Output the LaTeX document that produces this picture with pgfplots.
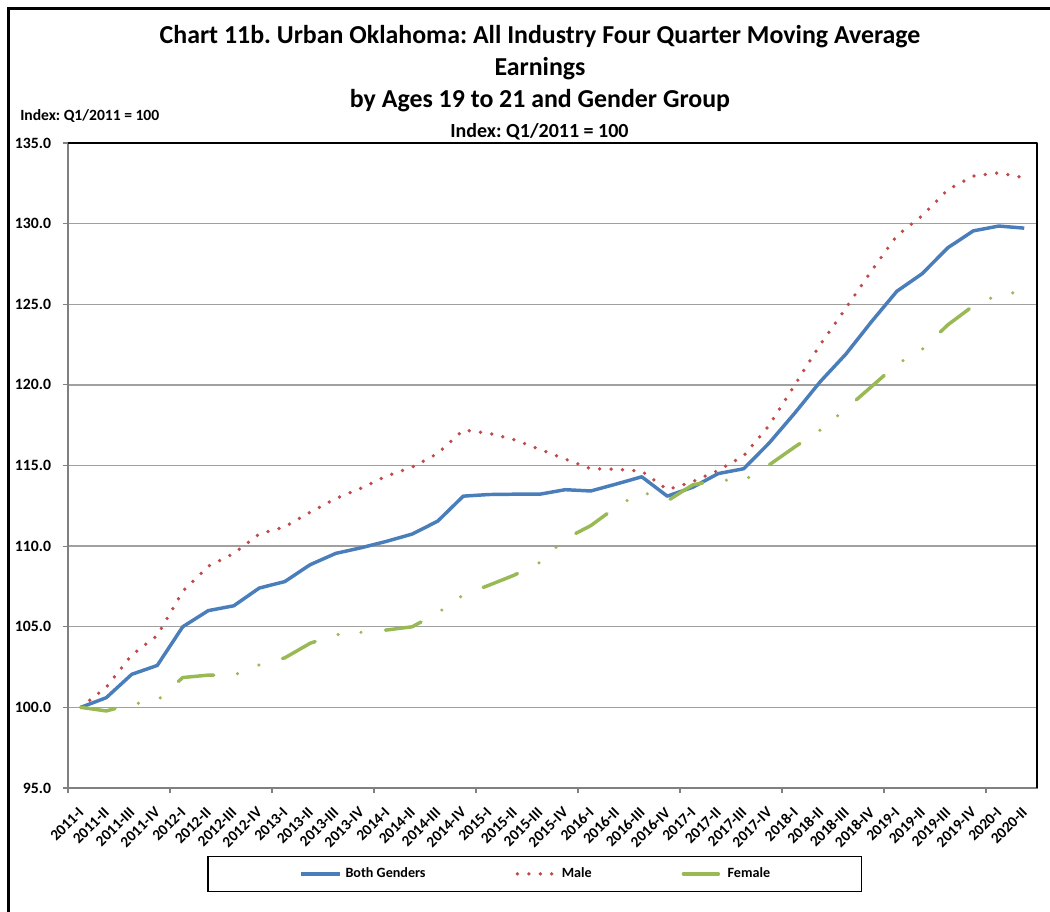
\documentclass[border=0pt]{standalone}
\usepackage{pgfplots}
\pgfplotsset{compat=1.18}
\usepackage{pgfplotstable}
\usepackage{fontspec}
\setmainfont{Carlito}
\frenchspacing
\definecolor{cBoth}{HTML}{4A7EBB}
\definecolor{cMale}{HTML}{BE4B48}
\definecolor{cFem}{HTML}{98B954}
\definecolor{cGrid}{HTML}{A0A0A0}
\definecolor{cAx}{HTML}{808080}

\pgfplotstableread{
x both male female
0 100.0 100.0 100.0
1 100.6 101.25 99.78
2 102.05 103.25 100.2
3 102.6 104.45 100.42
4 105.0 107.2 101.85
5 106.0 108.75 102.0
6 106.3 109.55 102.0
7 107.4 110.75 102.64
8 107.8 111.2 103.07
9 108.85 112.1 103.98
10 109.55 112.95 104.5
11 109.9 113.6 104.66
12 110.3 114.35 104.8
13 110.75 114.9 105.0
14 111.55 115.75 105.86
15 113.1 117.2 106.97
16 113.2 117.0 107.57
17 113.22 116.6 108.2
18 113.22 116.0 108.98
19 113.5 115.4 110.45
20 113.42 114.8 111.27
21 113.85 114.77 112.43
22 114.3 114.65 113.37
23 113.1 113.5 112.8
24 113.65 114.0 113.8
25 114.5 114.7 114.1
26 114.8 115.6 114.07
27 116.4 117.5 115.04
28 118.25 120.0 116.15
29 120.2 122.5 117.2
30 121.9 124.75 118.5
31 123.9 127.05 119.88
32 125.8 129.25 121.27
33 126.9 130.5 122.2
34 128.5 132.1 123.72
35 129.55 132.95 124.9
36 129.85 133.15 125.6
37 129.72 132.85 125.8
}\data

\begin{document}
\begin{tikzpicture}
\path[use as bounding box] (0,0) rectangle (787.5pt,-684pt);
% outer frame (left and top)
\draw[line width=2.2pt,black] (6.4pt,-684pt) -- (6.4pt,-6.4pt) -- (787.5pt,-6.4pt);
% titles
\node[font=\bfseries\fontsize{19.4pt}{21pt}\selectfont] at (405pt,-27.6pt) {Chart 11b. Urban Oklahoma: All Industry Four Quarter Moving Average};
\node[font=\bfseries\fontsize{19.4pt}{21pt}\selectfont] at (405pt,-51.6pt) {Earnings};
\node[font=\bfseries\fontsize{19.4pt}{21pt}\selectfont] at (405pt,-75.6pt) {by Ages 19 to 21 and Gender Group};
\node[font=\bfseries\fontsize{15pt}{16pt}\selectfont] at (404.6pt,-98.5pt) {Index: Q1/2011 = 100};
\node[font=\bfseries\fontsize{11.7pt}{13pt}\selectfont, anchor=west, inner sep=0pt] at (15pt,-87pt) {Index: Q1/2011 = 100};
\begin{axis}[
  at={(51pt,-591pt)}, anchor=south west,
  scale only axis, width=726.75pt, height=483.75pt,
  xmin=-0.5, xmax=37.5, ymin=95, ymax=135,
  axis lines=box,
  axis line style={cAx, line width=1.6pt},
  ytick={95,100,...,135},
  ymajorgrids, grid style={cGrid, line width=1.1pt},
  y tick label style={font=\bfseries\fontsize{11.8pt}{13pt}\selectfont,
     /pgf/number format/fixed, /pgf/number format/fixed zerofill, /pgf/number format/precision=1, /pgf/number format/assume math mode=true},
  yticklabel style={anchor=east, inner sep=0pt, xshift=-8.5pt},
  ytick style={cAx, line width=0.8pt},
  major tick length=4pt, tick align=outside,
  ytick pos=left,
  xtick={0,...,37},
  xticklabels={2011-I,2011-II,2011-III,2011-IV,2012-I,2012-II,2012-III,2012-IV,2013-I,2013-II,2013-III,2013-IV,2014-I,2014-II,2014-III,2014-IV,2015-I,2015-II,2015-III,2015-IV,2016-I,2016-II,2016-III,2016-IV,2017-I,2017-II,2017-III,2017-IV,2018-I,2018-II,2018-III,2018-IV,2019-I,2019-II,2019-III,2019-IV,2020-I,2020-II},
  x tick label style={font=\bfseries\fontsize{11.5pt}{12pt}\selectfont, xshift=-2.5pt, yshift=-9.5pt, rotate=45, anchor=north east, inner sep=0pt},
  xtick style={draw=none},
  xtick pos=bottom,
  extra x ticks={-0.5,3.5,...,35.5},
  extra x tick labels={},
  extra x tick style={grid=none, xtick style={draw=cAx, line width=0.8pt}, major tick length=4pt},
  clip=false,
  legend columns=3,
  legend style={at={(0.4818,-0.1054)}, anchor=north, draw=black, line width=0.9pt,
     font=\bfseries\fontsize{10.6pt}{12pt}\selectfont,
     nodes={inner sep=0pt},
     inner xsep=68.7pt, inner ysep=8.5pt,
     /tikz/every odd column/.append style={column sep=2.6pt},
     /tikz/every even column/.append style={column sep=67.5pt}},
  legend image code/.code={\draw[#1] (0pt,0pt) -- (29.25pt,0pt);},
]
\addplot[cBoth, line width=2.6pt, line join=round] table[x=x,y=both] {\data};
\addlegendentry{Both Genders}
\addplot[cMale, line width=2.8pt, line cap=round, dash pattern=on 0pt off 8.55pt] table[x=x,y=male] {\data};
\addlegendentry{Male}
\addplot[cFem, line width=2.6pt, line cap=round, dash pattern=on 27.75pt off 18pt on 0pt off 17.25pt on 0pt off 18.4pt, dash phase=1.6pt] table[x=x,y=female] {\data};
\addlegendentry{Female}
\draw[black, line width=1.6pt] (rel axis cs:0,1) -- (rel axis cs:1,1);
\draw[black, line width=2.2pt] (rel axis cs:1,1) -- (rel axis cs:1,0);
\end{axis}
\end{tikzpicture}
\end{document}
